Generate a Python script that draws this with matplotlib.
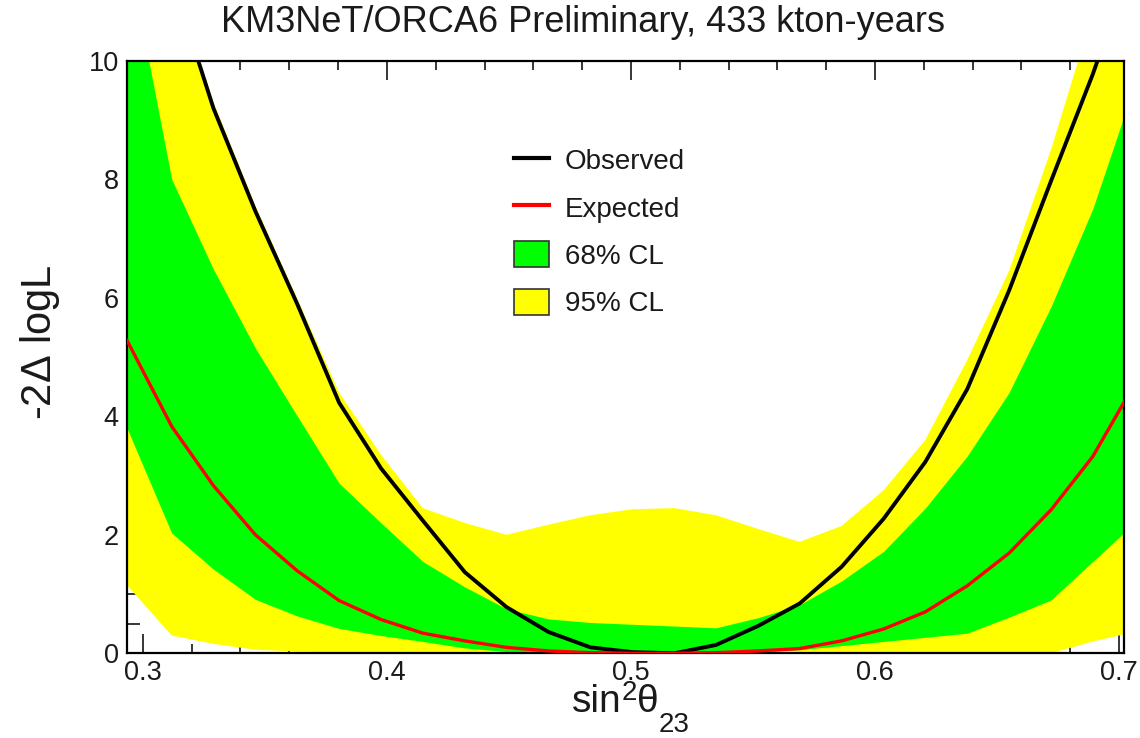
import matplotlib
matplotlib.use("Agg")
import matplotlib.pyplot as plt
from matplotlib.lines import Line2D
from matplotlib.patches import Patch
from matplotlib.ticker import FixedLocator, MultipleLocator

plt.rcParams['font.family'] = ['Liberation Sans', 'DejaVu Sans']
plt.rcParams['mathtext.fontset'] = 'custom'
plt.rcParams['mathtext.rm'] = 'Liberation Sans'
plt.rcParams['mathtext.it'] = 'Liberation Sans'
plt.rcParams['mathtext.bf'] = 'Liberation Sans:bold'

# scan points in sin^2(theta23)
sin2_theta23 = [0.2935, 0.3118, 0.3289, 0.3461, 0.3633, 0.3804, 0.3976, 0.4147,
                0.4319, 0.4490, 0.4662, 0.4834, 0.5005, 0.5177, 0.5348, 0.5520,
                0.5691, 0.5863, 0.6035, 0.6206, 0.6378, 0.6549, 0.6721, 0.6892,
                0.7064]

observed = [14.0, 11.4, 9.2, 7.46, 5.89, 4.23, 3.12, 2.24, 1.37, 0.78, 0.36, 0.10,
            0.02, 0.0, 0.14, 0.46, 0.84, 1.46, 2.27, 3.23, 4.46, 6.12, 7.97, 9.77,
            11.8]

expected = [5.28, 3.83, 2.83, 2.0, 1.39, 0.89, 0.57, 0.34, 0.21, 0.10, 0.04, 0.01,
            0.0, 0.0, 0.01, 0.04, 0.08, 0.21, 0.41, 0.70, 1.14, 1.69, 2.42, 3.32,
            4.55]

cl68_upper = [11.9, 8.0, 6.48, 5.15, 4.0, 2.87, 2.2, 1.55, 1.12, 0.75, 0.58, 0.52,
              0.49, 0.46, 0.43, 0.6, 0.82, 1.22, 1.72, 2.45, 3.33, 4.4, 5.85, 7.5,
              9.6]
cl68_lower = [3.8, 2.03, 1.42, 0.91, 0.63, 0.42, 0.3, 0.2, 0.09, 0.03, 0.01, 0.0,
              0.0, 0.0, 0.0, 0.02, 0.06, 0.13, 0.2, 0.27, 0.34, 0.61, 0.9, 1.55,
              2.2]

cl95_upper = [14.2, 11.5, 9.3, 7.55, 5.98, 4.4, 3.35, 2.45, 2.2, 2.0, 2.17, 2.33,
              2.43, 2.45, 2.33, 2.1, 1.88, 2.15, 2.75, 3.6, 4.95, 6.45, 8.5, 10.8,
              13.2]
cl95_lower = [1.15, 0.3, 0.16, 0.06, 0.03, 0.01, 0.0, 0.0, 0.0, 0.0, 0.0, 0.0,
              0.0, 0.0, 0.0, 0.0, 0.0, 0.0, 0.0, 0.0, 0.0, 0.0, 0.0, 0.2, 0.36]

x_ticks = [0.3, 0.4, 0.5, 0.6, 0.7]
x_ticklabels = ["0.3", "0.4", "0.5", "0.6", "0.7"]
y_ticks = [0, 2, 4, 6, 8, 10]
y_ticklabels = ["0", "2", "4", "6", "8", "10"]

title = "KM3NeT/ORCA6 Preliminary, 433 kton-years"
legend_labels = ["Observed", "Expected", "68% CL", "95% CL"]

GREEN = "#00ff00"
YELLOW = "#ffff00"
RED = "#ff0000"
INK = "#1a1a1a"

W, H = 1140, 738
fig = plt.figure(figsize=(W / 100, H / 100), dpi=100)
ax = fig.add_axes([127 / W, 1 - 653.3 / H, (1124 - 127) / W, (653.3 - 60.7) / H])

ax.fill_between(sin2_theta23, cl95_lower, cl95_upper, color=YELLOW, lw=0, zorder=1)
ax.fill_between(sin2_theta23, cl68_lower, cl68_upper, color=GREEN, lw=0, zorder=1.1)
ax.plot(sin2_theta23, observed, color="black", lw=2.8, zorder=3)
ax.plot(sin2_theta23, expected, color=RED, lw=2.4, zorder=3.1)

ax.set_xlim(0.2935, 0.702)
ax.set_ylim(0, 10)
ax.set_axisbelow(True)

ax.xaxis.set_major_locator(FixedLocator(x_ticks))
ax.set_xticklabels(x_ticklabels)
ax.xaxis.set_minor_locator(MultipleLocator(0.02))
ax.yaxis.set_major_locator(FixedLocator(y_ticks))
ax.set_yticklabels(y_ticklabels)
ax.yaxis.set_minor_locator(MultipleLocator(0.5))

ax.tick_params(axis='both', which='both', direction='in', top=True, right=True,
               labelsize=19.5, width=1.1, color='black', labelcolor=INK)
ax.tick_params(axis='x', which='major', length=13.5, pad=5)
ax.tick_params(axis='x', which='minor', length=6.5)
ax.tick_params(axis='y', which='major', length=15, pad=6)
ax.tick_params(axis='y', which='minor', length=9)
for sp in ax.spines.values():
    sp.set_linewidth(1.6)
    sp.set_color('black')

fig.text(0.511, 1 - 23 / H, title, ha='center', va='center', fontsize=26,
         color=INK)
fig.text(40 / W, 1 - 342 / H, r"-2$\Delta$ logL", rotation=90, ha='center',
         va='center', fontsize=30, color=INK)

# x-axis title built piece by piece: sin, superscript 2, theta, subscript 23
renderer = fig.canvas.get_renderer()
pieces = [("sin", 28, 0), ("2", 20, 12), ("\u03b8", 28, 0), ("23", 20, -20)]
x_px, base_px = 572.0, 712.0
for txt, size, shift in pieces:
    t = fig.text(x_px / W, 1 - (base_px - shift) / H, txt, fontsize=size,
                 ha='left', va='baseline', color=INK)
    x_px += t.get_window_extent(renderer=renderer).width

handles = [
    Line2D([], [], color='black', lw=3.0),
    Line2D([], [], color=RED, lw=3.0),
    Patch(facecolor=GREEN, edgecolor='#333333', lw=1.2),
    Patch(facecolor=YELLOW, edgecolor='#333333', lw=1.2),
]
ax.legend(handles, legend_labels, loc='upper left',
          bbox_to_anchor=(514 / W, 1 - 147 / H), bbox_transform=fig.transFigure,
          frameon=False, fontsize=20, handlelength=1.25, handleheight=1.05,
          handletextpad=0.58, labelspacing=0.68, borderpad=0, borderaxespad=0,
          labelcolor=INK)

fig.savefig("out.png", dpi=100, facecolor='white')
